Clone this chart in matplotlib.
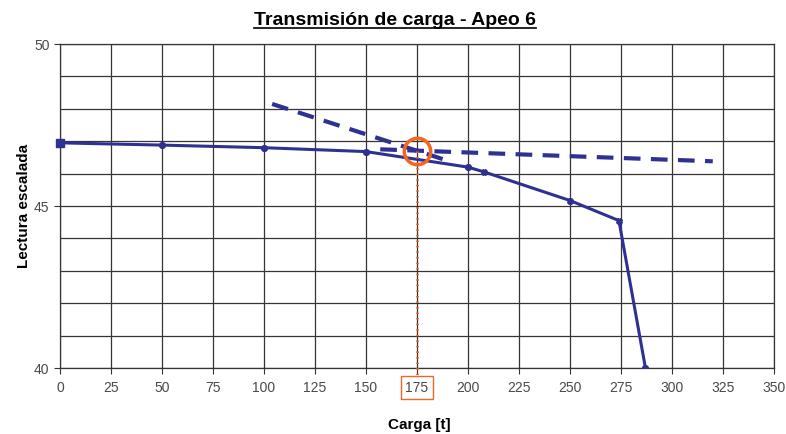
import numpy as np
import matplotlib
matplotlib.use('Agg')
import matplotlib.pyplot as plt
from matplotlib.lines import Line2D

plt.rcParams['font.family'] = ['Liberation Sans', 'DejaVu Sans']

# measured curve
carga = [0, 50, 100, 150, 200, 208, 250, 274, 287]
lectura = [46.95, 46.88, 46.8, 46.68, 46.2, 46.05, 45.17, 44.55, 40.0]

# tangent lines (dashed)
tang1_x = [104, 190]
tang1_y = [48.15, 46.4]
tang2_x = [157, 320]
tang2_y = [46.75, 46.38]

# intersection point
carga_lim = 175
lectura_lim = 46.7

xticks = list(range(0, 351, 25))
yticks = [40, 45, 50]

navy = '#2E3192'
orange = '#F26522'

fig = plt.figure(figsize=(7.86, 4.34), dpi=100)
ax = fig.add_axes([0.0763, 0.152, 0.9084, 0.7466])

ax.set_xlim(0, 350)
ax.set_ylim(40, 50)
ax.set_xticks(xticks)
ax.set_yticks(yticks)
ax.set_yticks(np.arange(40, 51, 1), minor=True)
ax.grid(True, which='both', color='#3a3333', lw=0.9)
ax.tick_params(which='minor', length=0)
ax.tick_params(which='major', length=4, color='#3a3333', labelsize=10,
               labelcolor='#4a4a4a', direction='out')
ax.tick_params(axis='x', pad=5)
for sp in ax.spines.values():
    sp.set_color('#3a3333')
    sp.set_linewidth(0.9)
ax.set_axisbelow(True)

# main line
ax.plot(carga, lectura, color=navy, lw=2.2, marker='X', ms=4, clip_on=True, zorder=3)
ax.plot(carga[:1], lectura[:1], color=navy, marker='s', ms=6, ls='none', clip_on=False, zorder=4)

# dashed tangents
ax.plot(tang1_x, tang1_y, color=navy, lw=3, ls=(0, (4, 2.5)), zorder=3)
ax.plot(tang2_x, tang2_y, color=navy, lw=3, ls=(0, (4, 2.5)), zorder=3)

# vertical dotted marker at the limit load
ax.plot([carga_lim, carga_lim], [lectura_lim, 39.75], color=orange, lw=2,
        ls=(0, (0.5, 1.5)), clip_on=False, zorder=4)
ax.plot([carga_lim], [lectura_lim], marker='o', ms=19, mfc='none', mec=orange,
        mew=2.5, ls='none', zorder=5)

# box around the 175 label
for lbl in ax.get_xticklabels():
    if lbl.get_text() == '175':
        lbl.set_bbox(dict(facecolor='none', edgecolor=orange, lw=1, pad=3))

ax.set_xlabel('Carga [t]', fontsize=11, fontweight='bold')
ax.xaxis.set_label_coords(0.503, -0.155)
ax.set_ylabel('Lectura escalada', fontsize=11, fontweight='bold')
ax.yaxis.set_label_coords(-0.04, 0.5)

title = fig.text(0.5025, 0.952, 'Transmisión de carga - Apeo 6', ha='center', va='center',
                 fontsize=14, fontweight='bold')

# underline the title
fig.canvas.draw()
bb = title.get_window_extent().transformed(fig.transFigure.inverted())
fig.add_artist(Line2D([bb.x0, bb.x1], [bb.y0 + 0.004, bb.y0 + 0.004],
                      transform=fig.transFigure, color='black', lw=1.2))

fig.savefig('out.png', dpi=100)
